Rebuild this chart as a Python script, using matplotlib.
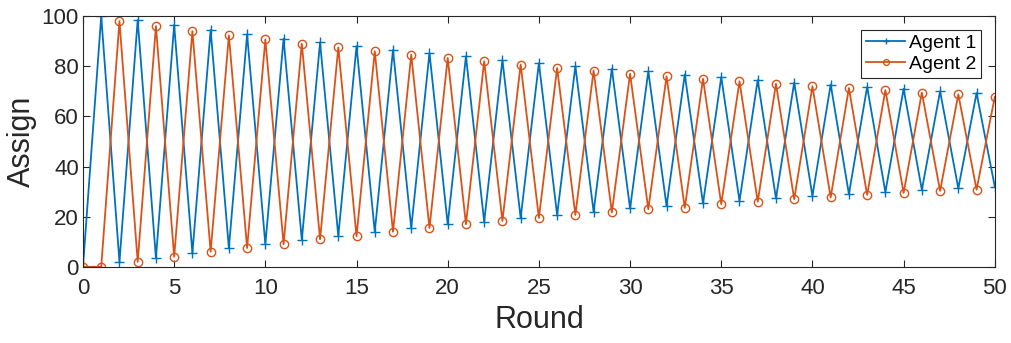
import numpy as np
import matplotlib
matplotlib.use("Agg")
import matplotlib.pyplot as plt

plt.rcParams['font.family'] = ['Liberation Sans', 'DejaVu Sans']

# 各ラウンドの割り当て量
rounds = list(range(0, 51))
agent1 = [0, 100, 2, 98.5, 3.5, 96.5, 5.5, 94.5, 7.5, 92.7,
          9, 91, 10.7, 89.5, 12.3, 88, 14, 86.5, 15.5, 85.3,
          17, 84, 18, 82.5, 19.5, 81.3, 20.7, 80, 22, 79,
          23.3, 78, 24.3, 76.7, 25.3, 75.7, 26.3, 74.5, 27.3, 73.5,
          28.3, 72.7, 29, 71.8, 29.8, 71, 30.7, 70, 31.3, 69.3,
          32]
agent2 = [0, 0, 98, 2, 96, 4, 94, 6, 92.3, 7.5,
          90.7, 9, 89, 11, 87.5, 12.2, 86, 14, 84.6, 15.5,
          83.3, 17, 82, 18.3, 80.7, 19.5, 79.3, 20.7, 78.3, 21.7,
          77, 23, 76, 23.5, 75, 25, 74, 26, 73, 27,
          72, 27.7, 71.3, 28.7, 70.5, 29.5, 69.5, 30.3, 68.8, 30.8,
          67.8]

fig = plt.figure(figsize=(10.12, 3.43), dpi=100)
ax = fig.add_axes([0.082, 0.222, 0.901, 0.731])

ax.plot(rounds, agent1, color='#0072BD', marker='+', markersize=7,
        linewidth=1.3, label='Agent 1')
ax.plot(rounds, agent2, color='#D95319', marker='o', markersize=6,
        markerfacecolor='none', linewidth=1.3, label='Agent 2')

ax.set_xlim(0, 50)
ax.set_ylim(0, 100)
ax.set_xticks(range(0, 51, 5))
ax.set_yticks(range(0, 101, 20))
ax.tick_params(direction='in', top=True, right=True, labelsize=16,
               length=5, color='#262626', labelcolor='#262626')
ax.tick_params(axis='x', pad=8)
ax.tick_params(axis='y', pad=3)
for s in ax.spines.values():
    s.set_color('#262626')
    s.set_linewidth(0.8)

ax.set_xlabel('Round', fontsize=22, color='#262626', labelpad=4)
ax.set_ylabel('Assign', fontsize=22, color='#262626', labelpad=3)

leg = ax.legend(loc='upper right', fontsize=14, fancybox=False,
                edgecolor='#262626', framealpha=1, handlelength=2.0,
                handletextpad=0.2, borderpad=0.25, labelspacing=0.15,
                borderaxespad=0.7, markerscale=0.7)
leg.get_frame().set_linewidth(0.8)

fig.savefig('out.png', dpi=100)
